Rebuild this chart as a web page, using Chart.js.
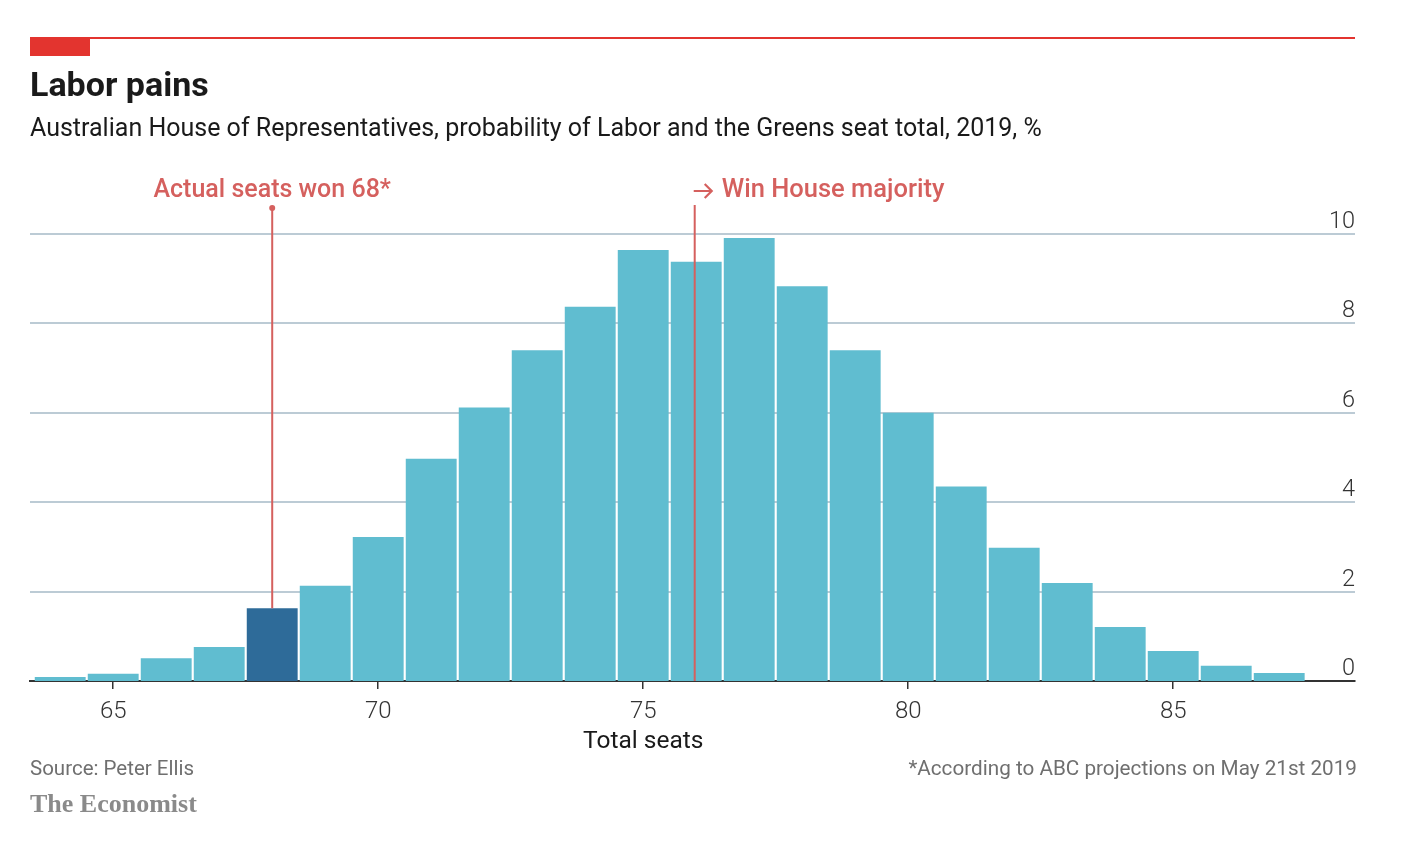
<!DOCTYPE html>
<html>
<head>
<meta charset="utf-8">
<script src="https://cdn.jsdelivr.net/npm/chart.js@4.4.1/dist/chart.umd.min.js"></script>
<style>
  html, body { margin:0; padding:0; background:#fff; }
  body { width:1422px; height:848px; position:relative; overflow:hidden; font-family:"Roboto","Noto Sans",sans-serif; }
  #wrap { position:absolute; left:0; top:0; width:1422px; height:848px; }
  .t { position:absolute; white-space:nowrap; }
  #topline { position:absolute; left:30px; top:37px; width:1325px; height:2px; background:#e3342f; }
  #redblock { position:absolute; left:30px; top:37px; width:60px; height:19px; background:#e3342f; }
  #title { left:30px; top:64px; font-size:34px; font-weight:700; color:#1a1a1a; }
  #subtitle { left:30px; top:113px; font-size:25px; color:#1a1a1a; }
  #source { left:30px; top:756px; font-size:20.5px; color:#6f6f6f; }
  #brand { left:30px; top:789px; font-size:26px; color:#8a8a8a; font-family:"Liberation Serif","DejaVu Serif",serif; font-weight:700; }
  #note { right:65px; top:756px; font-size:20.7px; color:#6f6f6f; }
</style>
</head>
<body>
<div id="wrap"><canvas id="c" width="1422" height="848"></canvas></div>
<div id="topline"></div>
<div id="redblock"></div>
<div class="t" id="title">Labor pains</div>
<div class="t" id="subtitle">Australian House of Representatives, probability of Labor and the Greens seat total, 2019, %</div>
<div class="t" id="source">Source: Peter Ellis</div>
<div class="t" id="brand">The Economist</div>
<div class="t" id="note">*According to ABC projections on May 21st 2019</div>
<script>
const seats = [64,65,66,67,68,69,70,71,72,73,74,75,76,77,78,79,80,81,82,83,84,85,86,87];
const probability = [0.09,0.16,0.51,0.76,1.63,2.13,3.22,4.97,6.12,7.40,8.37,9.64,9.38,9.91,8.83,7.40,6.00,4.35,2.98,2.19,1.21,0.67,0.34,0.18];
const xTicks = [65,70,75,80,85];
const yTicks = [0,2,4,6,8,10];
const actualSeats = 68;
const majoritySeats = 76;
const actualLabel = "Actual seats won 68*";
const majorityLabel = "Win House majority";
const xTitle = "Total seats";

const LIGHT = "#60bdd0";
const DARK = "#2e6b99";
const RED = "#d5605e";

const annotations = {
  id: "annotations",
  afterDatasetsDraw(chart) {
    const ctx = chart.ctx;
    const x = chart.scales.x, y = chart.scales.y;
    ctx.save();
    ctx.strokeStyle = RED;
    ctx.fillStyle = RED;
    ctx.lineWidth = 2;
    // actual seats line
    const ax = x.getPixelForValue(actualSeats);
    const aIdx = seats.indexOf(actualSeats);
    const aTop = y.getPixelForValue(probability[aIdx]);
    ctx.beginPath(); ctx.moveTo(ax, 207); ctx.lineTo(ax, aTop); ctx.stroke();
    ctx.beginPath(); ctx.arc(ax, 208, 3, 0, Math.PI*2); ctx.fill();
    // majority line
    const mx = x.getPixelForValue(majoritySeats) - 1.5;
    ctx.beginPath(); ctx.moveTo(mx, 205); ctx.lineTo(mx, y.getPixelForValue(0)); ctx.stroke();
    ctx.font = "500 25px Roboto, 'Noto Sans', sans-serif";
    ctx.textBaseline = "middle";
    ctx.textAlign = "center";
    ctx.fillText(actualLabel, ax, 191);
    // arrow
    ctx.lineWidth = 2.2;
    ctx.beginPath();
    ctx.moveTo(mx - 1, 191); ctx.lineTo(mx + 17, 191);
    ctx.moveTo(mx + 10, 184); ctx.lineTo(mx + 17, 191); ctx.lineTo(mx + 10, 198);
    ctx.stroke();
    ctx.textAlign = "left";
    ctx.font = "500 25.5px Roboto, 'Noto Sans', sans-serif";
    ctx.fillText(majorityLabel, mx + 27, 191);
    // y labels above gridlines
    ctx.fillStyle = "#333";
    ctx.font = "300 23.5px Roboto, 'Noto Sans', sans-serif";
    ctx.textAlign = "right";
    ctx.textBaseline = "alphabetic";
    yTicks.forEach(v => {
      ctx.fillText(String(v), chart.chartArea.right, y.getPixelForValue(v) - 6);
    });
    // x axis title
    ctx.fillStyle = "#1a1a1a";
    ctx.font = "400 24.5px Roboto, 'Noto Sans', sans-serif";
    ctx.textAlign = "center";
    ctx.textBaseline = "middle";
    ctx.fillText(xTitle, x.getPixelForValue(75), 742);
    ctx.restore();
  }
};

new Chart(document.getElementById("c"), {
  type: "bar",
  data: {
    datasets: [{
      data: seats.map((s, i) => ({ x: s, y: probability[i] })),
      backgroundColor: seats.map(s => s === actualSeats ? DARK : LIGHT),
      borderWidth: 0,
      barPercentage: 0.96,
      categoryPercentage: 1.0
    }]
  },
  options: {
    responsive: false,
    animation: false,
    devicePixelRatio: 1,
    layout: { padding: { left: 30, right: 67, top: 234, bottom: 117 } },
    plugins: { legend: { display: false }, tooltip: { enabled: false } },
    scales: {
      x: {
        type: "linear",
        offset: false,
        min: 63.43, max: 88.43,
        afterBuildTicks: (s) => { s.ticks = xTicks.map(v => ({ value: v })); },
        afterFit: (s) => { s.height = 50; },
        grid: { offset: false, drawOnChartArea: false, drawTicks: true, tickLength: 8, color: "#333", lineWidth: 1.5 },
        border: { display: true, color: "#333", width: 2 },
        ticks: { color: "#333", font: { family: "Roboto", size: 24, weight: "300" }, padding: 9 }
      },
      y: {
        position: "right",
        min: 0, max: 10,
        afterBuildTicks: (s) => { s.ticks = yTicks.filter(v => v > 0).map(v => ({ value: v })); },
        afterFit: (s) => { s.width = 0; },
        grid: { color: "#bccbd5", lineWidth: 2, drawTicks: false },
        border: { display: false },
        ticks: { display: false }
      }
    }
  },
  plugins: [annotations]
});
</script>
</body>
</html>
